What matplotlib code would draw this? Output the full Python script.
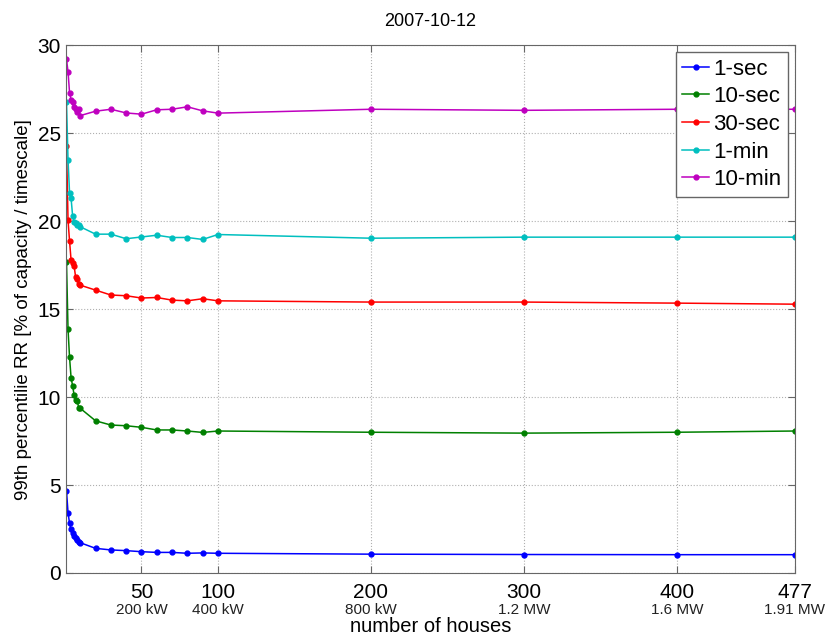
import matplotlib
matplotlib.use('Agg')
import matplotlib.pyplot as plt

plt.rcParams['font.family'] = ['Liberation Sans', 'DejaVu Sans']

houses = [1, 2, 3, 4, 5, 6, 7, 8, 9, 10, 20, 30, 40, 50, 60, 70, 80, 90, 100, 200, 300, 400, 477]

rr_1sec = [4.68, 3.43, 2.82, 2.48, 2.26, 2.12, 2.01, 1.88, 1.78, 1.72,
           1.40, 1.31, 1.27, 1.21, 1.17, 1.17, 1.12, 1.14, 1.12, 1.07, 1.05, 1.04, 1.04]
rr_10sec = [17.7, 13.86, 12.25, 11.1, 10.64, 10.1, 9.83, 9.77, 9.4, 9.36,
            8.65, 8.41, 8.37, 8.28, 8.13, 8.13, 8.07, 7.99, 8.07, 8.0, 7.95, 8.0, 8.07]
rr_30sec = [24.3, 20.06, 18.86, 17.78, 17.6, 17.44, 16.8, 16.7, 16.42, 16.36,
            16.08, 15.8, 15.76, 15.63, 15.66, 15.51, 15.47, 15.59, 15.47, 15.4, 15.4, 15.34, 15.28]
rr_1min = [26.8, 23.5, 21.6, 21.3, 20.3, 19.96, 19.87, 19.8, 19.77, 19.68,
           19.26, 19.26, 19.0, 19.1, 19.2, 19.07, 19.07, 18.96, 19.24, 19.03, 19.09, 19.09, 19.09]
rr_10min = [29.2, 28.5, 27.3, 26.9, 26.8, 26.5, 26.4, 26.2, 26.4, 26.0,
            26.25, 26.36, 26.15, 26.08, 26.33, 26.36, 26.5, 26.27, 26.14, 26.36, 26.3, 26.36, 26.36]

series = [('1-sec', rr_1sec, '#0000ff'),
          ('10-sec', rr_10sec, '#008000'),
          ('30-sec', rr_30sec, '#ff0000'),
          ('1-min', rr_1min, '#00bfbf'),
          ('10-min', rr_10min, '#bf00bf')]

xticks = [50, 100, 200, 300, 400, 477]
xtick_sub = ['200 kW', '400 kW', '800 kW', '1.2 MW', '1.6 MW', '1.91 MW']

fig = plt.figure(figsize=(8.27, 6.37), dpi=100)
ax = fig.add_axes([0.0804, 0.1005, 0.8806, 0.8285])

for name, vals, col in series:
    ax.plot(houses, vals, color=col, marker='o', markersize=3.5, linewidth=1.1, label=name)

ax.set_xlim(1, 477)
ax.set_ylim(0, 30)
ax.set_xticks(xticks)
ax.set_xticklabels([str(t) for t in xticks], fontsize=15)
ax.set_yticks(range(0, 31, 5))
ax.tick_params(axis='y', labelsize=15, pad=4)
ax.tick_params(axis='x', pad=7)
ax.tick_params(direction='in', top=True, right=True, length=5, color='#666666')
for s in ax.spines.values():
    s.set_color('#666666')
ax.grid(True, linestyle=':', color='#b0b0b0', linewidth=0.8)

# power sublabels under the house counts
for t, lab in zip(xticks, xtick_sub):
    ax.text(t, -0.056, lab, transform=ax.get_xaxis_transform(), ha='center', va='top',
            fontsize=11, color='#222222')

ax.set_xlabel('number of houses', fontsize=14.5)
ax.xaxis.set_label_coords(0.5, -0.084)
ax.set_ylabel('99th percentilie RR [% of capacity / timescale]', fontsize=13.5)
ax.set_title('2007-10-12', fontsize=13, pad=14)

leg = ax.legend(loc='upper right', fontsize=16, fancybox=False, framealpha=1,
                edgecolor='#666666', handlelength=1.2, borderaxespad=0.3,
                labelspacing=0.3, handletextpad=0.2, borderpad=0.3)

fig.savefig('out.png', dpi=100)
